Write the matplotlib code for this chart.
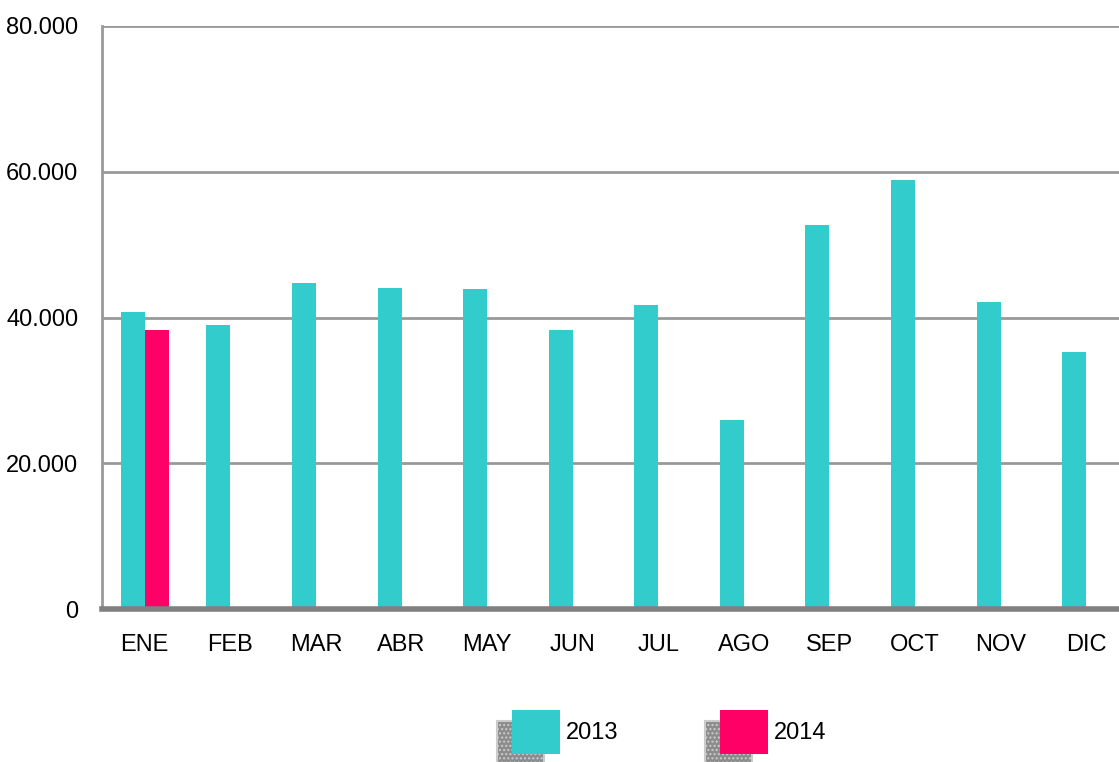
import matplotlib.pyplot as plt
import matplotlib.patches as mpatches
import numpy as np

plt.rcParams['font.family'] = ['Liberation Sans Narrow', 'Liberation Sans', 'DejaVu Sans']

meses = ['ENE', 'FEB', 'MAR', 'ABR', 'MAY', 'JUN', 'JUL', 'AGO', 'SEP', 'OCT', 'NOV', 'DIC']
v2013 = [40800, 39000, 44700, 44100, 43900, 38300, 41700, 25900, 52700, 58900, 42100, 35200]
v2014 = [38300]
y_ticks = [0, 20000, 40000, 60000, 80000]
y_labels = ['0', '20.000', '40.000', '60.000', '80.000']

c2013 = '#33CCCC'
c2014 = '#FF0066'

fig = plt.figure(figsize=(11.19, 7.62), dpi=100)
ax = fig.add_axes([102 / 1119, 153 / 762, 1027 / 1119, 583 / 762])

x = np.arange(len(meses))
w = 0.28
ax.bar(x - w / 2, v2013, width=w, color=c2013, zorder=3)
ax.bar(x[:len(v2014)] + w / 2, v2014, width=w, color=c2014, zorder=3)

ax.set_xlim(-0.5, len(meses) - 0.5)
ax.set_ylim(0, 80000)
ax.set_yticks(y_ticks)
ax.set_yticklabels(y_labels)
ax.set_xticks(x)
ax.set_xticklabels(meses)
ax.tick_params(axis='y', length=0, pad=17, labelsize=17)
ax.tick_params(axis='x', length=0, pad=18, labelsize=17)

ax.grid(axis='y', color='#999999', linewidth=2, zorder=1)
for s in ['top', 'right']:
    ax.spines[s].set_visible(False)
ax.spines['left'].set_color('#999999')
ax.spines['left'].set_linewidth(2)
ax.spines['bottom'].set_color('#808080')
ax.spines['bottom'].set_linewidth(4)
ax.spines['bottom'].set_zorder(4)

# leyenda manual con sombra
W, H = 1119, 762
for px, col, lab in [(512, c2013, '2013'), (720, c2014, '2014')]:
    sh = mpatches.Rectangle(((px - 15) / W, (H - 764) / H), 47 / W, 43 / H,
                            transform=fig.transFigure, facecolor='#8c8c8c',
                            edgecolor='#cccccc', hatch='....', linewidth=1.5)
    fig.patches.append(sh)
    sq = mpatches.Rectangle((px / W, (H - 754) / H), 48 / W, 44 / H,
                            transform=fig.transFigure, facecolor=col, edgecolor='none')
    fig.patches.append(sq)
    fig.text((px + 54) / W, (H - 733) / H, lab, fontsize=17, va='center', ha='left')

fig.savefig('out.png', dpi=100)
